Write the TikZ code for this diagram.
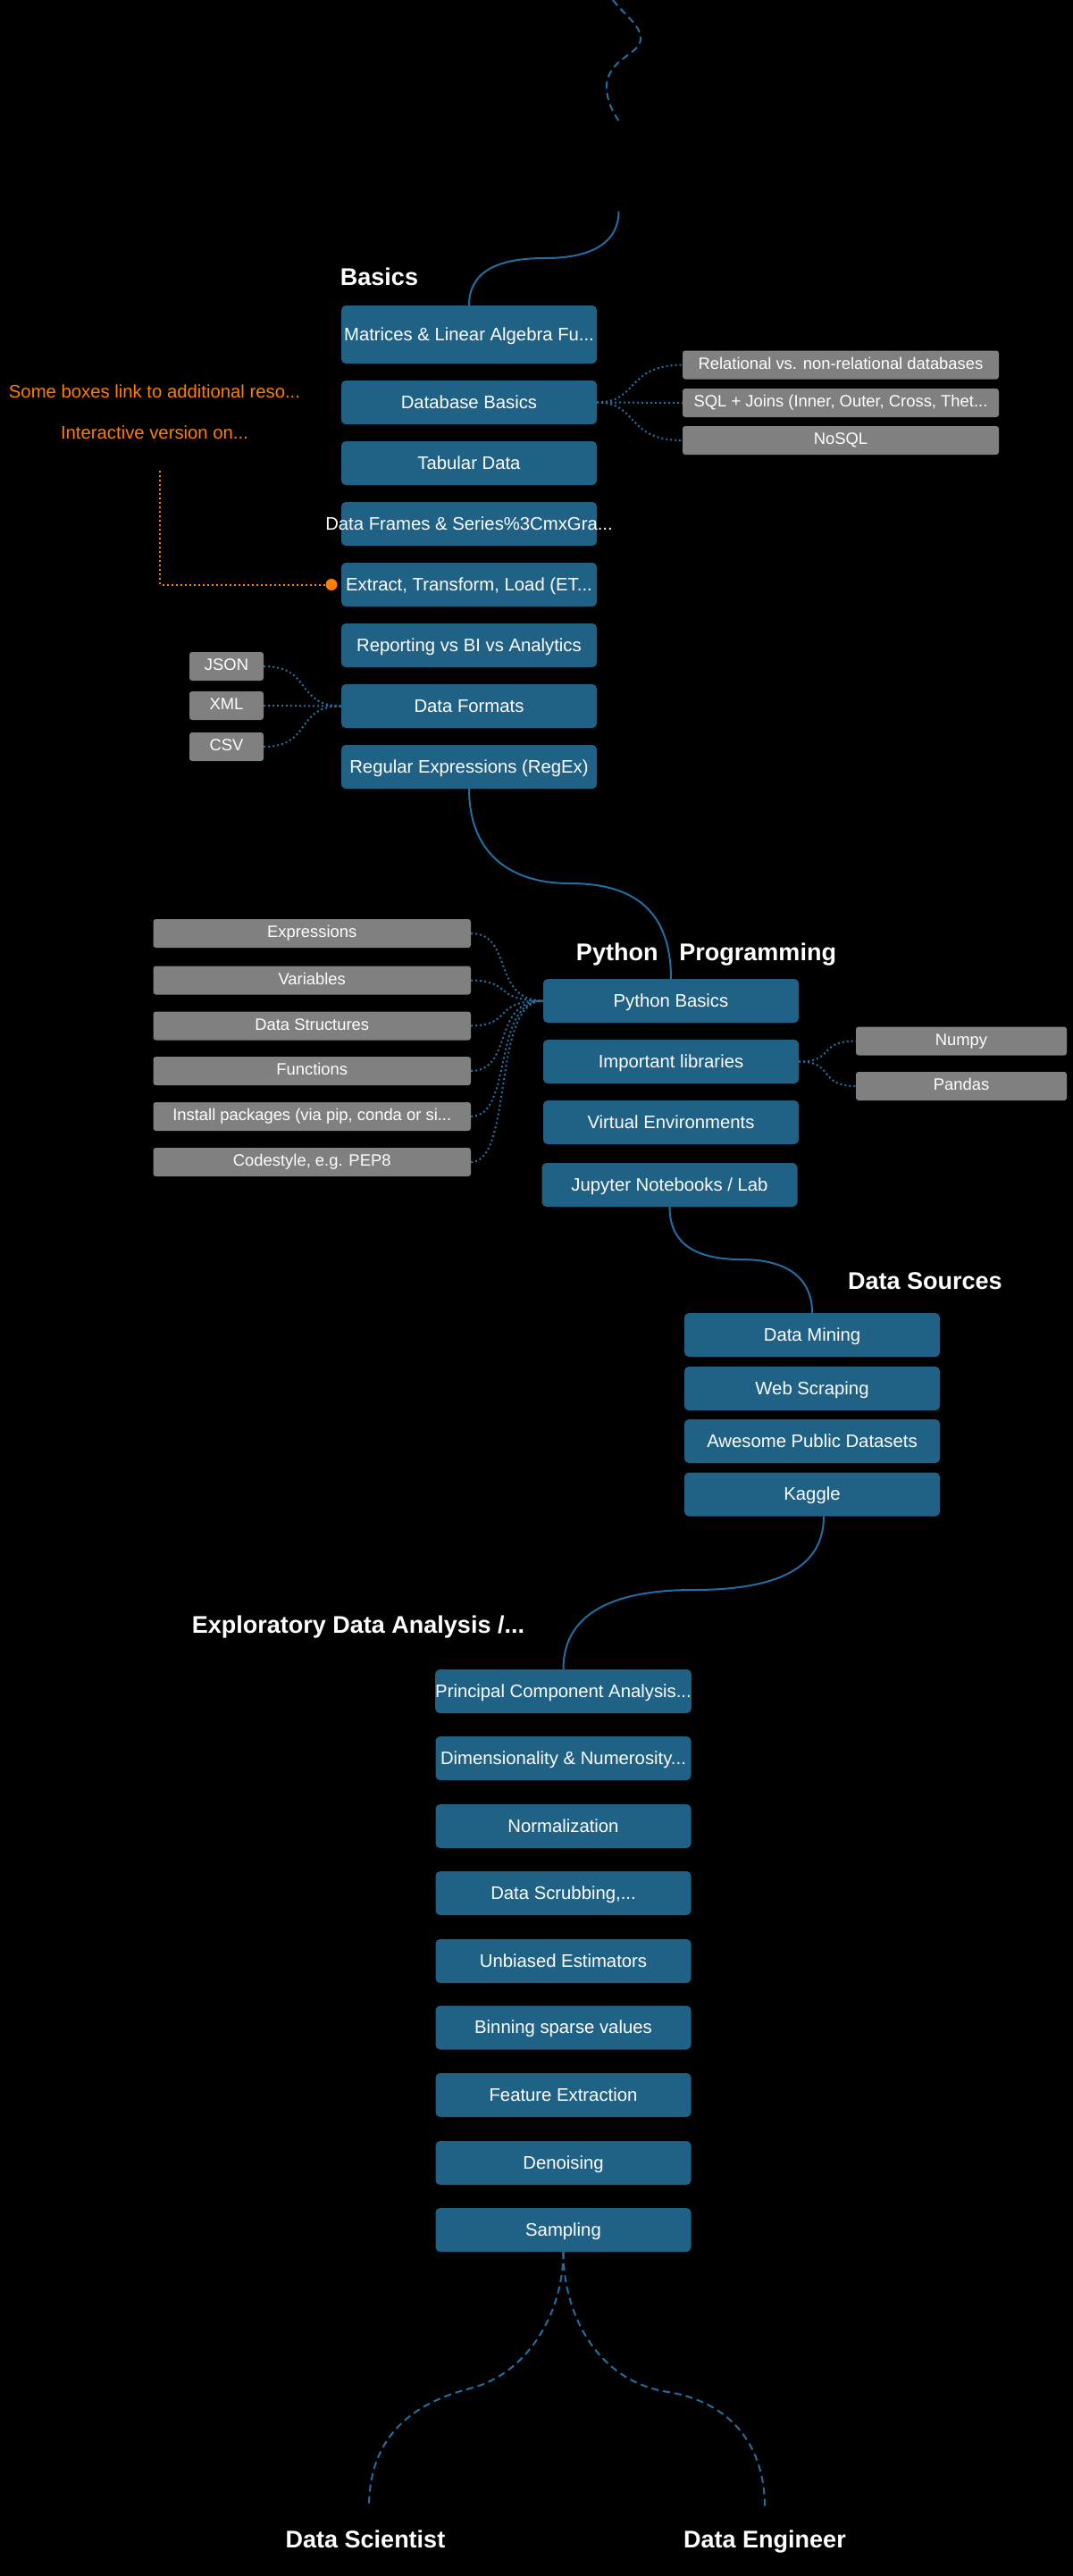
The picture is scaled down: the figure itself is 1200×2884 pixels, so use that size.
\documentclass[tikz,border=0pt]{standalone}
\usepackage{fontspec}
\setmainfont{Liberation Sans}
\usepackage{tikz}
\definecolor{Boxblue}{RGB}{31, 98, 133}
\definecolor{Lineblue}{RGB}{35, 110, 160}
\definecolor{Dotblue}{RGB}{38, 112, 160}
\definecolor{Boxgray}{RGB}{128, 128, 128}
\definecolor{Noteorange}{RGB}{255, 128, 0}
\newcommand{\lblfont}{\fontsize{20.3}{24}\selectfont}
\newcommand{\subfont}{\fontsize{18.4}{22}\selectfont}
\newcommand{\headfont}{\fontsize{27}{32}\selectfont\bfseries}
\tikzset{
  bluebox/.style={fill=Boxblue, rounded corners=5pt, text=white, inner sep=0pt,
    minimum width=286pt, minimum height=49pt, font=\lblfont, text height=16pt, text depth=3pt},
  graybox/.style={fill=Boxgray, rounded corners=3pt, text=white, inner sep=0pt,
    minimum height=32pt, font=\subfont, text height=14pt, text depth=5pt},
  head/.style={text=white, inner sep=0pt, font=\headfont, text height=20pt, text depth=6pt},
  note/.style={text=Noteorange, inner sep=0pt, font=\lblfont},
  flow/.style={draw=Lineblue, line width=2pt},
  dashflow/.style={draw=Lineblue, line width=2pt, dash pattern=on 8pt off 5pt},
  dotlink/.style={draw=Dotblue, line width=2pt, dash pattern=on 2pt off 3pt},
  dotnote/.style={draw=Noteorange, line width=2pt, dash pattern=on 2pt off 3pt}
}
\begin{document}
\begin{tikzpicture}[x=1pt, y=-1pt]
\useasboundingbox (0,0) rectangle (1200,2884);
\fill[black] (-5,-5) rectangle (1205,2889);
% basics
\node[head] (basicsHead) at (424.5,312) {Basics};
\node[bluebox, minimum height=65pt] (matrices) at (525,374.5) {Matrices \& Linear Algebra Fu...};
\node[bluebox] (dbBasics) at (525,450.5) {Database Basics};
\node[bluebox] (tabular) at (525,518.5) {Tabular Data};
\node[bluebox] (frames) at (525,586.5) {\makebox[0pt]{Data Frames \& Series\%3CmxGra...}};
\node[bluebox] (etl) at (525,654.5) {Extract, Transform, Load (ET...};
\node[bluebox] (reporting) at (525,722.5) {Reporting vs BI vs Analytics};
\node[bluebox] (formats) at (525,790.5) {Data Formats};
\node[bluebox] (regex) at (525,858.5) {Regular Expressions (RegEx)};
\node[graybox, minimum width=354pt] (relational) at (941,408.5) {Relational vs. non-relational databases};
\node[graybox, minimum width=354pt] (sql) at (941,451) {SQL + Joins (Inner, Outer, Cross, Thet...};
\node[graybox, minimum width=354pt] (nosql) at (941,493) {NoSQL};
\node[graybox, minimum width=83pt] (json) at (253.5,746) {JSON};
\node[graybox, minimum width=83pt] (xml) at (253.5,790) {XML};
\node[graybox, minimum width=83pt] (csv) at (253.5,836) {CSV};
% note
\node[note] (noteLink) at (173,438) {Some boxes link to additional reso...};
\node[note] (noteWeb) at (173,484) {Interactive version on...};
\coordinate (noteStart) at (179,527);
\node[circle, fill=Noteorange, inner sep=0pt, minimum size=13pt] (noteDot) at (371,654.5) {};
\draw[dotnote] (noteStart) |- (noteDot);
% python
\node[head] (pythonHead) at (790.5,1068) {Python\hspace{24pt}Programming};
\node[bluebox] (pyBasics) at (751,1120.5) {Python Basics};
\node[bluebox] (libraries) at (751,1188.5) {Important libraries};
\node[bluebox] (venv) at (751,1256.5) {Virtual Environments};
\node[bluebox] (jupyter) at (749.5,1326.5) {Jupyter Notebooks / Lab};
\node[graybox, minimum width=355.5pt] (expressions) at (349.25,1045) {Expressions};
\node[graybox, minimum width=355.5pt] (variables) at (349.25,1097.5) {Variables};
\node[graybox, minimum width=355.5pt] (structures) at (349.25,1148.5) {Data Structures};
\node[graybox, minimum width=355.5pt] (functions) at (349.25,1199) {Functions};
\node[graybox, minimum width=355.5pt] (install) at (349.25,1250) {Install packages (via pip, conda or si...};
\node[graybox, minimum width=355.5pt] (codestyle) at (349.25,1301) {Codestyle, e.g. PEP8};
\node[graybox, minimum width=236pt] (numpy) at (1076,1165.5) {Numpy};
\node[graybox, minimum width=236pt] (pandas) at (1076,1216) {Pandas};
% sources
\node[head] (sourcesHead) at (1035.5,1436) {Data Sources};
\node[bluebox] (mining) at (909,1494.5) {Data Mining};
\node[bluebox] (scraping) at (909,1554.5) {Web Scraping};
\node[bluebox] (datasets) at (909,1613.5) {Awesome Public Datasets};
\node[bluebox] (kaggle) at (909,1673) {Kaggle};
% eda
\node[head] (edaHead) at (401,1821) {Exploratory Data Analysis /...};
\node[bluebox] (pca) at (630.5,1893.5) {Principal Component Analysis...};
\node[bluebox] (numerosity) at (630.5,1968.5) {Dimensionality \& Numerosity...};
\node[bluebox] (normal) at (630.5,2044.5) {Normalization};
\node[bluebox] (scrubbing) at (630.5,2119.5) {Data Scrubbing,...};
\node[bluebox] (unbiased) at (630.5,2195.5) {Unbiased Estimators};
\node[bluebox] (binning) at (630.5,2270) {Binning sparse values};
\node[bluebox] (feature) at (630.5,2345.5) {Feature Extraction};
\node[bluebox] (denoising) at (630.5,2421.5) {Denoising};
\node[bluebox] (sampling) at (630.5,2496.5) {Sampling};
\node[head] (scientistHead) at (409,2845) {Data Scientist};
\node[head] (engineerHead) at (856,2845) {Data Engineer};
% flow
\coordinate (topStart) at (686,0);
\coordinate (topEnd) at (692.5,135);
\coordinate (introEnd) at (692.5,236.5);
\coordinate (scientistEnd) at (413,2807);
\coordinate (engineerEnd) at (856,2807);
\draw[dashflow] (topStart) .. controls (700,18) and (717,28) .. (717,43) .. controls (717,62) and (679,65) .. (679,98) .. controls (679,112) and (685,124) .. (topEnd);
\draw[flow] (introEnd) .. controls (692.5,270) and (665,289) .. (610,289) .. controls (555,289) and (525,305) .. (matrices.north);
\draw[flow] (regex.south) .. controls (525,950) and (565,989) .. (638,989) .. controls (710,989) and (751,1020) .. (pyBasics.north);
\draw[flow] (jupyter.south) .. controls (749.5,1390) and (775,1410) .. (830,1410) .. controls (880,1410) and (909,1430) .. (mining.north);
\draw[flow] (922,1697.5) .. controls (922,1750) and (880,1780) .. (776,1780) .. controls (680,1780) and (630.5,1810) .. (pca.north);
\draw[dashflow] (sampling.south) .. controls (630.5,2590) and (590,2658) .. (526,2674) .. controls (465,2690) and (413,2725) .. (scientistEnd);
\draw[dashflow] (sampling.south) .. controls (630.5,2590) and (668,2666) .. (748,2678) .. controls (810,2688) and (856,2730) .. (engineerEnd);
% side links
\draw[dotlink] (dbBasics.east) .. controls (715,450.5) and (700,409) .. (relational.west);
\draw[dotlink] (dbBasics.east) -- (sql.west);
\draw[dotlink] (dbBasics.east) .. controls (715,450.5) and (700,493) .. (nosql.west);
\draw[dotlink] (json.east) .. controls (350,746) and (330,790) .. (formats.west);
\draw[dotlink] (xml.east) -- (formats.west);
\draw[dotlink] (csv.east) .. controls (350,836) and (330,790) .. (formats.west);
\draw[dotlink] (expressions.east) .. controls (575,1045) and (550,1120) .. (pyBasics.west);
\draw[dotlink] (variables.east) .. controls (575,1098) and (550,1120) .. (pyBasics.west);
\draw[dotlink] (structures.east) .. controls (575,1148) and (550,1120) .. (pyBasics.west);
\draw[dotlink] (functions.east) .. controls (575,1199) and (550,1120) .. (pyBasics.west);
\draw[dotlink] (install.east) .. controls (575,1250) and (550,1120) .. (pyBasics.west);
\draw[dotlink] (codestyle.east) .. controls (575,1301) and (550,1120) .. (pyBasics.west);
\draw[dotlink] (libraries.east) .. controls (935,1188.5) and (915,1165.5) .. (numpy.west);
\draw[dotlink] (libraries.east) .. controls (935,1188.5) and (915,1216) .. (pandas.west);
\end{tikzpicture}
\end{document}
